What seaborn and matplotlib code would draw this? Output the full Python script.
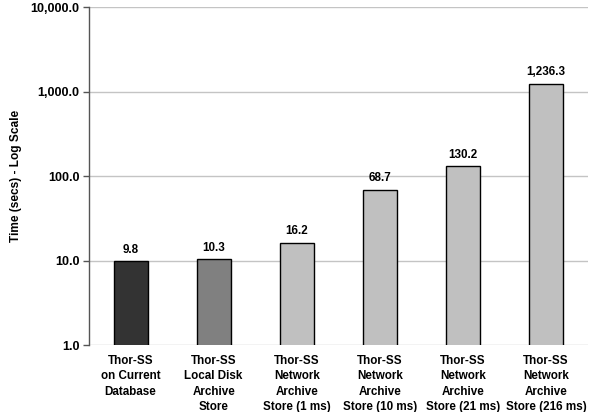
import matplotlib.pyplot as plt
from matplotlib.ticker import FuncFormatter
import seaborn as sns
import pandas as pd

categories = [
    "Thor-SS\non Current\nDatabase",
    "Thor-SS\nLocal Disk\nArchive\nStore",
    "Thor-SS\nNetwork\nArchive\nStore (1 ms)",
    "Thor-SS\nNetwork\nArchive\nStore (10 ms)",
    "Thor-SS\nNetwork\nArchive\nStore (21 ms)",
    "Thor-SS\nNetwork\nArchive\nStore (216 ms)",
]
times = [9.8, 10.3, 16.2, 68.7, 130.2, 1236.3]
bar_colors = ["#333333", "#808080", "#c0c0c0", "#c0c0c0", "#c0c0c0", "#c0c0c0"]

df = pd.DataFrame({"Config": categories, "Time": times})

sns.set_theme(style="white")
plt.rcParams["font.family"] = ["Liberation Sans", "DejaVu Sans"]
plt.rcParams["font.weight"] = "bold"
plt.rcParams["text.color"] = "black"
plt.rcParams["xtick.color"] = "black"
plt.rcParams["ytick.color"] = "black"

fig = plt.figure(figsize=(5.98, 4.12), dpi=100)
ax = fig.add_axes([0.1488, 0.1626, 0.834, 0.8204])

sns.barplot(
    data=df,
    x="Config",
    y="Time",
    hue="Config",
    palette=bar_colors,
    width=0.41,
    edgecolor="black",
    linewidth=1.0,
    legend=False,
    ax=ax,
)

ax.set_yscale("log")
ax.set_ylim(1, 10000)
ax.set_yticks([1, 10, 100, 1000, 10000])
ax.yaxis.set_major_formatter(FuncFormatter(lambda v, p: f"{v:,.1f}"))
ax.yaxis.set_minor_locator(plt.NullLocator())
ax.set_axisbelow(True)
ax.grid(axis="y", color="#c4c4c4", linewidth=1.0)

for spine in ["top", "right", "bottom"]:
    ax.spines[spine].set_visible(False)
ax.spines["left"].set_color("#555555")
ax.spines["left"].set_linewidth(1.0)

ax.tick_params(axis="y", left=True, length=4, width=1, color="#555555",
               labelsize=9, pad=3, labelcolor="black")
ax.tick_params(axis="x", bottom=False, labelsize=8.4, pad=1, labelcolor="black")
for lbl in ax.get_yticklabels():
    lbl.set_fontweight("bold")
for lbl in ax.get_xticklabels():
    lbl.set_fontweight("bold")
    lbl.set_linespacing(1.38)

ax.set_xlabel("")
ax.set_ylabel("Time (secs) - Log Scale", fontsize=8.6, fontweight="bold",
              color="black", labelpad=6)

for i, v in enumerate(times):
    ax.annotate(f"{v:,.1f}", (i, v), xytext=(0, 4), textcoords="offset points",
                ha="center", va="bottom", fontsize=8.4, fontweight="bold")

fig.savefig("out.png", dpi=100)
